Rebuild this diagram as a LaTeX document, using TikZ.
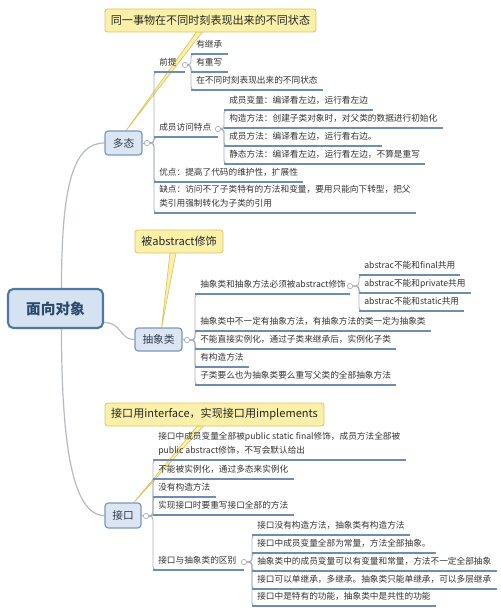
\documentclass[tikz,border=0pt]{standalone}
\usepackage{fontspec}
\setmainfont{Noto Sans CJK SC}
\usetikzlibrary{calc,backgrounds}
\definecolor{callf}{HTML}{FAF0AA}
\definecolor{calld}{HTML}{DCC55F}
\definecolor{boxf}{HTML}{DCE6F2}
\definecolor{boxd}{HTML}{7A98BC}
\definecolor{boxt}{HTML}{2E3B4E}
\definecolor{rootf}{HTML}{D5E2F2}
\definecolor{rootd}{HTML}{4F78A5}
\definecolor{roott}{HTML}{2C4A6B}
\definecolor{ulc}{HTML}{6E8DB3}
\definecolor{cnc}{HTML}{A7B0BC}
\definecolor{mainc}{HTML}{B5BAC0}
\definecolor{txt}{HTML}{333333}
\begin{document}
\begin{tikzpicture}[x=0.75pt,y=-0.75pt,
  leaf/.style={anchor=south west, inner xsep=3.75pt, inner ysep=2.75pt,
    font=\fontsize{6.5pt}{10.5pt}\selectfont, text=txt,
    text height=0.8em, text depth=0.2em, align=left},
  ul/.style={draw=ulc, line width=0.9pt},
  conn/.style={draw=cnc, line width=0.7pt, rounded corners=2.5pt},
  dot/.style={circle, draw=cnc, fill=white, line width=0.5pt, inner sep=0pt, minimum size=4pt},
  topic/.style={rectangle, rounded corners=2.5pt, draw=boxd, fill=boxf, line width=0.9pt,
    text=boxt, font=\fontsize{8pt}{9pt}\selectfont, inner sep=0pt},
  rootbox/.style={rectangle, rounded corners=4pt, draw=rootd, fill=rootf, line width=1.6pt,
    text=roott, font=\bfseries\fontsize{11pt}{12pt}\selectfont, inner sep=0pt,
    minimum width=71.25pt, minimum height=29.25pt},
  callout/.style={rectangle, rounded corners=2pt, draw=calld, fill=callf, line width=0.6pt,
    font=\fontsize{8.3pt}{10pt}\selectfont, text=black!85, inner sep=0pt, minimum height=17.25pt},
  wedge/.style={fill=callf, draw=calld, line width=0.5pt, line join=round},
  mainline/.style={draw=mainc, line width=0.9pt}
]
\useasboundingbox (0,0) rectangle (500,616);

% root and topics
\node[rootbox] (root) at (55.5,308.5) {面向对象};
\node[topic, minimum width=27.75pt, minimum height=18pt] (dt) at (123.5,143) {多态};
\node[topic, minimum width=35.25pt, minimum height=17.25pt] (ab) at (158.5,339.5) {抽象类};
\node[topic, minimum width=27pt, minimum height=18.75pt] (jk) at (123,515.5) {接口};

% callouts
\node[callout, minimum width=158.25pt] (c1) at (210.5,20.5) {同一事物在不同时刻表现出来的不同状态};
\node[callout, minimum width=66pt] (c2) at (179,241.5) {被abstract修饰};
\node[callout, minimum width=164.25pt] (c3) at (214.5,414.5) {接口用interface，实现接口用implements};

% dots
\node[dot] (k0) at (147,143) {};
\node[dot] (k1) at (185,65) {};
\node[dot] (k2) at (218,129) {};
\node[dot] (k3) at (187,340) {};
\node[dot] (k4) at (350,286) {};
\node[dot] (k5) at (146,516) {};
\node[dot] (k6) at (244,562) {};

% 多态 leaves
\node[leaf] (p1) at (154,72) {前提};
\node[leaf] (p2) at (154,137) {成员访问特点};
\node[leaf] (p3) at (154,182) {优点：提高了代码的维护性，扩展性};
\node[leaf] (p4) at (154,213) {缺点：访问不了子类特有的方法和变量，要用只能向下转型，把父\\类引用强制转化为子类的引用};
\node[leaf] (a1) at (191,54) {有继承};
\node[leaf] (a2) at (191,72) {有重写};
\node[leaf] (a3) at (191,90) {在不同时刻表现出来的不同状态};
\node[leaf] (m1) at (224,110) {成员变量：编译看左边，运行看左边};
\node[leaf] (m2) at (224,128) {构造方法：创建子类对象时，对父类的数据进行初始化};
\node[leaf] (m3) at (224,146) {成员方法：编译看左边，运行看右边。};
\node[leaf] (m4) at (224,164) {静态方法：编译看左边，运行看左边，不算是重写};

% 抽象类 leaves
\node[leaf] (b1) at (195,294) {抽象类和抽象方法必须被abstract修饰};
\node[leaf] (b2) at (195,331) {抽象类中不一定有抽象方法，有抽象方法的类一定为抽象类};
\node[leaf] (b3) at (195,349) {不能直接实例化，通过子类来继承后，实例化子类};
\node[leaf] (b4) at (195,367) {有构造方法};
\node[leaf] (b5) at (195,385) {子类要么也为抽象类要么重写父类的全部抽象方法};
\node[leaf] (e1) at (359,275) {abstrac不能和final共用};
\node[leaf] (e2) at (359,293) {abstrac不能和private共用};
\node[leaf] (e3) at (359,311) {abstrac不能和static共用};

% 接口 leaves
\node[leaf] (i1) at (153,460) {接口中成员变量全部被public static final修饰，成员方法全部被\\public abstract修饰，不写会默认给出};
\node[leaf] (i2) at (153,479) {不能被实例化，通过多态来实例化};
\node[leaf] (i3) at (153,497) {没有构造方法};
\node[leaf] (i4) at (153,515) {实现接口时要重写接口全部的方法};
\node[leaf] (i5) at (153,570) {接口与抽象类的区别};
\node[leaf] (d1) at (252,535) {接口没有构造方法，抽象类有构造方法};
\node[leaf] (d2) at (252,553) {接口中成员变量全部为常量，方法全部抽象。};
\node[leaf] (d3) at (252,571) {抽象类中的成员变量可以有变量和常量，方法不一定全部抽象};
\node[leaf] (d4) at (252,589) {接口可以单继承，多继承。抽象类只能单继承，可以多层继承};
\node[leaf] (d5) at (252,606) {接口中是特有的功能，抽象类中是共性的功能};

\begin{scope}[on background layer]
  % callout pointers
  \path[wedge] ($(c1.south)+(-14,-0.5)$) -- ($(c1.south)+(-8,-0.5)$) -- ($(dt.north)+(2,1)$) -- cycle;
  \path[wedge] ($(c2.south)+(-9,-0.5)$) -- ($(c2.south)+(-3,-0.5)$) -- ($(ab.north)+(3,1)$) -- cycle;
  \path[wedge] ($(c3.south)+(-17,-0.5)$) -- ($(c3.south)+(-11,-0.5)$) -- ($(jk.north)+(10,1)$) -- cycle;
  % main branches
  \draw[mainline] ($(root.north)+(6,0)$) .. controls +(0,-100) and +(-32,0) .. (dt.west);
  \draw[mainline] ($(root.east)+(0,14)$) .. controls +(18,0) and +(-15,0) .. (ab.west);
  \draw[mainline] ($(root.south)+(6,0)$) .. controls +(0,115) and +(-32,0) .. (jk.west);
  % topic to dots
  \draw[conn] (dt.east) -- (k0.west);
  \draw[conn] (ab.east) -- (k3.west);
  \draw[conn] (jk.east) -- (k5.west);
  % spines
  \foreach \k/\n in {k0/p1,k0/p2,k0/p3,k0/p4,k1/a1,k1/a2,k1/a3,k2/m1,k2/m3,k2/m4,
                     k3/b1,k3/b2,k3/b3,k3/b4,k3/b5,k4/e1,k4/e2,k4/e3,
                     k5/i1,k5/i2,k5/i3,k5/i5,k6/d1,k6/d2,k6/d3,k6/d4,k6/d5}
    \draw[conn] (\k.east) -| (\n.south west) -- ++(4,0);
  \draw[conn] (k2.east) -- (m2.south west);
  \draw[conn] (k5.east) -- (i4.south west);
  % underlines
  \foreach \n in {a1,a2,a3,m1,m2,m3,m4,p3,p4,b2,b3,b4,b5,e1,e2,e3,i1,i2,i3,i4,d1,d2,d3,d4,d5}
    \draw[ul] (\n.south west) -- (\n.south east);
  \draw[ul] (p1.south west) -- (p1.south -| k1.center);
  \draw[ul] (p2.south west) -- (p2.south -| k2.center);
  \draw[ul] (b1.south west) -- (b1.south -| k4.center);
  \draw[ul] (i5.south west) -- (i5.south -| k6.center);
\end{scope}
\end{tikzpicture}
\end{document}
